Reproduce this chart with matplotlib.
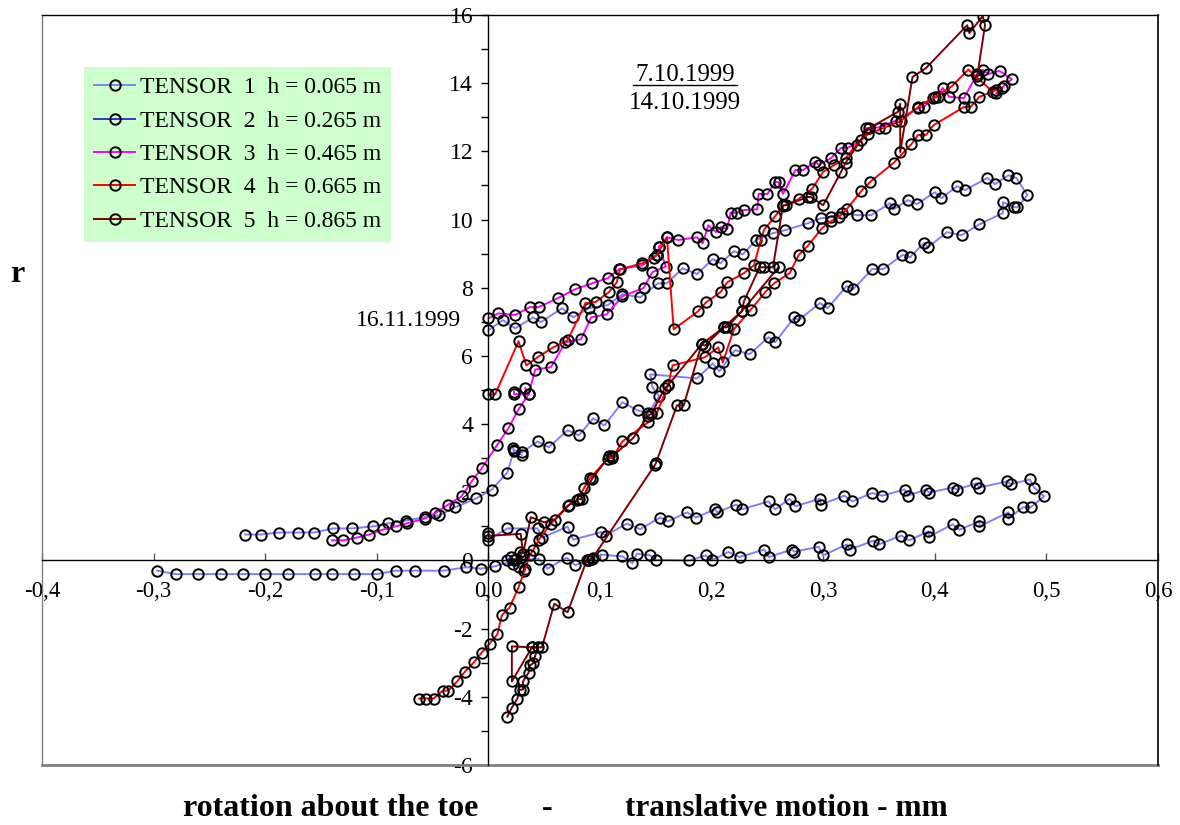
import numpy as np
import matplotlib
matplotlib.use('Agg')
import matplotlib.pyplot as plt
from matplotlib.lines import Line2D
from matplotlib.ticker import FuncFormatter, MultipleLocator

plt.rcParams['font.family'] = ['Liberation Serif', 'DejaVu Serif']
plt.rcParams['axes.unicode_minus'] = False

nan = float('nan')

# TENSOR 1 (two loops, NaN = break in the line)
t1_x = [-0.297, -0.28, -0.26, -0.24, -0.22, -0.2, -0.18, -0.155, -0.14, -0.12, -0.1, -0.083, -0.066, -0.04,
        -0.02, -0.007, 0.006, 0.023, 0.045, 0.053, 0.07, 0.078, 0.089, 0.094, 0.102, 0.12, 0.129, 0.133,
        0.145, 0.15, 0.18, 0.195, 0.2, 0.215, 0.225, 0.247, 0.251, 0.272, 0.274, 0.296, 0.3, 0.321, 0.324,
        0.345, 0.35, 0.37, 0.377, 0.394, 0.395, 0.416, 0.422, 0.44, 0.44, 0.466, 0.466, 0.479, 0.486, 0.498,
        0.489, 0.485, 0.468, 0.465, 0.44, 0.437, 0.42, 0.416, 0.395, 0.392, 0.376, 0.373, 0.353, 0.344,
        0.326, 0.319, 0.298, 0.297, 0.275, 0.27, 0.257, 0.251, 0.227, 0.222, 0.205, 0.203, 0.186, 0.178,
        0.161, 0.154, 0.136, 0.124, 0.105, 0.101, 0.076, 0.071, 0.048, 0.044, 0.017, 0.0,
        nan,
        -0.218, -0.204, -0.188, -0.171, -0.156, -0.139, -0.122, -0.103, -0.09, -0.074, -0.057, -0.044,
        -0.03, -0.011, 0.003, 0.017, 0.023, 0.03, 0.044, 0.054, 0.071, 0.081, 0.094, 0.104, 0.12, 0.134,
        0.143, 0.153, 0.147, 0.145, 0.187, 0.201, 0.207, 0.221, 0.234, 0.251, 0.257, 0.274, 0.278, 0.297,
        0.304, 0.321, 0.327, 0.344, 0.354, 0.371, 0.378, 0.39, 0.394, 0.411, 0.424, 0.44, 0.461, 0.461,
        0.471, 0.474, 0.483, 0.473, 0.466, 0.454, 0.447, 0.427, 0.42, 0.406, 0.4, 0.384, 0.376, 0.363,
        0.36, 0.343, 0.33, 0.317, 0.307, 0.298, 0.286, 0.266, 0.255, 0.24, 0.228, 0.22, 0.208, 0.201,
        0.187, 0.174, 0.16, 0.152, 0.136, 0.12, 0.107, 0.09, 0.076, 0.066, 0.047, 0.04, 0.024, 0.013, 0.0,
        nan,
        0.022, 0.023, 0.03]
t1_y = [-0.3, -0.4, -0.4, -0.4, -0.4, -0.4, -0.4, -0.4, -0.4, -0.4, -0.4, -0.3, -0.3, -0.3,
        -0.2, -0.24, -0.17, 0.0, 0.05, -0.24, 0.08, -0.14, 0.02, 0.08, 0.17, 0.12, -0.08, 0.2,
        0.15, 0.02, 0.0, 0.15, 0.0, 0.25, 0.1, 0.32, 0.1, 0.32, 0.26, 0.4, 0.15, 0.47, 0.32,
        0.58, 0.47, 0.73, 0.59, 0.85, 0.7, 1.06, 0.9, 1.15, 1.0, 1.41, 1.23, 1.56, 1.56, 1.88,
        2.14, 2.38, 2.23, 2.32, 2.14, 2.26, 2.08, 2.14, 1.99, 2.08, 1.9, 2.08, 1.9, 1.98,
        1.73, 1.9, 1.64, 1.81, 1.59, 1.81, 1.5, 1.73, 1.5, 1.64, 1.41, 1.5, 1.26, 1.41,
        1.15, 1.26, 0.92, 1.08, 0.73, 0.83, 0.61, 0.99, 0.67, 0.94, 0.94, 0.61,
        nan,
        0.76, 0.76, 0.82, 0.82, 0.82, 0.94, 0.94, 1.0, 1.09, 1.17, 1.27, 1.32,
        1.56, 1.82, 2.08, 2.58, 3.23, 3.17, 3.49, 3.32, 3.82, 3.67, 4.17, 3.96, 4.64, 4.4,
        4.32, 4.81, 5.08, 5.46, 5.34, 5.78, 5.55, 6.17, 6.05, 6.55, 6.4, 7.13, 7.05, 7.55,
        7.4, 8.05, 7.96, 8.55, 8.55, 8.96, 8.9, 9.3, 9.19, 9.63, 9.54, 9.86, 10.19, 10.51,
        10.36, 10.36, 10.72, 11.22, 11.3, 11.04, 11.22, 10.86, 10.98, 10.63, 10.8, 10.45, 10.57, 10.3,
        10.48, 10.13, 10.13, 10.19, 10.07, 10.04, 9.89, 9.69, 9.6, 9.4, 8.98, 9.07, 8.72, 8.84,
        8.4, 8.57, 8.13, 8.13, 7.72, 7.81, 7.49, 7.4, 7.13, 7.4, 6.99, 7.13, 6.81, 7.05, 6.75,
        nan,
        3.3, 3.2, 3.1]

# TENSOR 2
t2_x = [0.017, 0.02, 0.022, 0.025, 0.027, 0.03, 0.028, 0.032]
t2_y = [0.0, 0.1, -0.1, 0.05, -0.2, 0.1, 0.25, -0.3]

# TENSOR 3
t3_x = [-0.14, -0.13, -0.118, -0.107, -0.094, -0.083, -0.073, -0.057, -0.048, -0.036, -0.024, -0.015,
        -0.006, 0.008, 0.018, 0.027, 0.036, 0.042, 0.056, 0.069, 0.083, 0.092, 0.106, 0.12, 0.139, 0.147,
        0.159, 0.153, 0.16, 0.17, 0.187, 0.192, 0.197, 0.204, 0.208, 0.214, 0.217, 0.223, 0.229, 0.241,
        0.242, 0.25, 0.257, 0.26, 0.264, 0.275, 0.282, 0.293, 0.296, 0.307, 0.316, 0.322, 0.334, 0.338,
        0.35, 0.365, 0.385, 0.39, 0.398, 0.403, 0.407, 0.413, 0.426, 0.438, 0.443, 0.448, 0.458, 0.469,
        0.462, 0.455,
        nan,
        0.0, 0.009, 0.024, 0.037, 0.045, 0.062, 0.078, 0.093, 0.107, 0.117, 0.138, 0.148, 0.151, 0.153,
        nan,
        0.023, 0.023, 0.036, 0.033]
t3_y = [0.59, 0.59, 0.67, 0.76, 0.91, 1.0, 1.09, 1.23, 1.38, 1.64, 1.88, 2.32,
        2.7, 3.4, 3.88, 4.43, 4.87, 5.6, 5.67, 6.4, 6.49, 7.13, 7.22, 7.75, 7.99, 8.46,
        8.62, 9.2, 9.48, 9.4, 9.48, 9.3, 9.83, 9.63, 9.78, 9.72, 10.2, 10.2, 10.28, 10.3,
        10.75, 10.75, 11.1, 11.1, 10.75, 11.45, 11.45, 11.7, 11.6, 11.8, 12.1, 12.1, 12.33, 12.68,
        12.7, 12.9, 13.27, 13.3, 13.56, 13.6, 13.86, 13.6, 13.56, 14.27, 14.39, 14.27, 14.36, 14.12,
        13.92, 13.7,
        nan,
        7.1, 7.25, 7.2, 7.43, 7.43, 7.69, 7.96, 8.13, 8.28, 8.54, 8.66, 8.87, 8.96, 9.2,
        nan,
        4.95, 4.88, 4.87, 5.05]

# TENSOR 4
t4_x = [-0.062, -0.056, -0.049, -0.041, -0.036, -0.028, -0.021, -0.013, -0.006, 0.001, 0.008, 0.012,
        0.019, 0.027, 0.033, 0.037, 0.04, 0.045, 0.056, 0.071, 0.079, 0.086, 0.091, 0.107, 0.111, 0.12,
        0.143, 0.151, 0.161, 0.165, 0.194, 0.206, 0.21, 0.22, 0.235, 0.248, 0.256, 0.27, 0.278, 0.286,
        0.299, 0.307, 0.314, 0.321, 0.334, 0.342, 0.363, 0.379, 0.385, 0.392, 0.399, 0.426, 0.432, 0.44,
        0.455, 0.46,
        nan,
        0.0, 0.006, 0.027, 0.034, 0.044, 0.058, 0.071, 0.087, 0.096, 0.108, 0.115, 0.118, 0.138, 0.151,
        0.16, 0.166, 0.188, 0.195, 0.208, 0.214, 0.229, 0.238, 0.244, 0.247, 0.257, 0.264, 0.278, 0.29,
        0.3, 0.31, 0.32, 0.33, 0.34, 0.355, 0.37, 0.385, 0.4, 0.415, 0.43, 0.44, 0.452]
t4_y = [-4.05, -4.05, -4.05, -3.82, -3.82, -3.55, -3.26, -2.99, -2.7, -2.44, -2.17, -1.61,
        -1.38, -0.79, -0.24, 0.15, 0.3, 0.6, 1.08, 1.61, 1.76, 2.14, 2.41, 2.99, 3.0, 3.49,
        4.05, 4.32, 5.14, 5.72, 5.96, 6.25, 5.81, 6.78, 7.35, 7.87, 8.13, 8.43, 8.96, 9.22,
        9.75, 9.95, 10.07, 10.3, 10.83, 11.1, 11.66, 12.21, 12.48, 12.48, 12.77, 13.3, 13.3, 13.6,
        13.8, 13.85,
        nan,
        4.87, 4.87, 6.43, 5.72, 5.96, 6.25, 6.46, 7.55, 7.58, 7.87, 8.16, 8.54, 8.72, 8.96,
        9.48, 6.78, 7.31, 7.57, 7.87, 8.16, 8.43, 8.66, 9.4, 9.7, 10.1, 10.4, 10.6, 10.9,
        11.4, 11.6, 11.8, 12.2, 12.5, 12.7, 12.9, 13.3, 13.6, 13.9, 14.4, 14.1, 13.75]

# TENSOR 5
t5_x = [0.017, 0.021, 0.026, 0.028, 0.031, 0.031, 0.036, 0.037, 0.04, 0.042, 0.044, 0.039, 0.021,
        0.021, 0.039, 0.048, 0.059, 0.071, 0.088, 0.09, 0.093, 0.149, 0.15, 0.169, 0.175, 0.191, 0.194,
        0.211, 0.214, 0.227, 0.229, 0.243, 0.247, 0.255, 0.264, 0.267, 0.286, 0.289, 0.3, 0.316, 0.32,
        0.341, 0.367, 0.369, 0.369, 0.38, 0.392, 0.429, 0.431, 0.443, 0.445, 0.438,
        nan,
        0.0, 0.0, 0.029, 0.031, 0.038, 0.05, 0.06, 0.072, 0.081, 0.084, 0.093, 0.108, 0.111, 0.13,
        0.143, 0.146, 0.158, 0.161, 0.191, 0.211, 0.227, 0.26]
t5_y = [-4.58, -4.32, -4.05, -3.79, -3.79, -3.55, -3.29, -3.08, -3.02, -2.79, -2.55, -2.55, -2.52,
        -3.55, -2.55, -2.55, -1.27, -1.52, 0.0, 0.02, 0.05, 2.79, 2.85, 4.55, 4.55, 6.34, 6.3,
        6.84, 6.84, 7.31, 7.6, 8.6, 8.6, 8.6, 10.42, 10.42, 10.66, 10.66, 10.42, 11.4, 11.66,
        12.68, 13.16, 13.4, 11.98, 14.18, 14.44, 15.7, 15.47, 15.97, 15.7, 14.2,
        nan,
        0.82, 0.72, 0.78, 0.2, 1.27, 1.12, 1.2, 1.62, 1.8, 1.8, 2.4, 3.05, 3.05, 3.6,
        4.25, 4.3, 5.05, 5.14, 6.34, 6.84, 7.31, 8.6]

labels = ['TENSOR  1  h = 0.065 m', 'TENSOR  2  h = 0.265 m', 'TENSOR  3  h = 0.465 m',
          'TENSOR  4  h = 0.665 m', 'TENSOR  5  h = 0.865 m']
colors = ['#8080ff', '#3333cc', '#ff00ff', '#ff0000', '#800000']
series = [(t1_x, t1_y), (t2_x, t2_y), (t3_x, t3_y), (t4_x, t4_y), (t5_x, t5_y)]

fig = plt.figure(figsize=(11.8, 8.25), dpi=100)
ax = fig.add_axes([42 / 1180, 60 / 825, 1116 / 1180, 750 / 825])

for (xs, ys), c, lab in zip(series, colors, labels):
    ax.plot(xs, ys, color=c, lw=1.4, marker='o', ms=7.5, mfc='none', mec='black', mew=1.4, label=lab)

ax.set_xlim(-0.4, 0.6)
ax.set_ylim(-6, 16)

# axes cross at the origin
ax.spines['left'].set_position(('data', 0))
ax.spines['bottom'].set_position(('data', 0))
for s in ['top', 'right']:
    ax.spines[s].set_visible(False)
ax.spines['left'].set_linewidth(1.0)
ax.spines['bottom'].set_linewidth(1.0)

# outer frame
fr = dict(transform=ax.transAxes, clip_on=False)
ax.add_line(Line2D([0, 0], [0, 1], color='#808080', lw=1.0, **fr))
ax.add_line(Line2D([0, 1], [0, 0], color='#808080', lw=2.0, **fr))
ax.add_line(Line2D([0, 1], [1, 1], color='black', lw=1.0, **fr))
ax.add_line(Line2D([1, 1], [0, 1], color='black', lw=1.2, **fr))

ax.set_xticks(np.arange(-0.4, 0.61, 0.1))
ax.xaxis.set_major_formatter(FuncFormatter(lambda v, p: f'{v:.1f}'.replace('.', ',').replace('-0,0', '0,0')))
ax.yaxis.set_major_locator(MultipleLocator(2))
ax.yaxis.set_minor_locator(MultipleLocator(1))
ax.tick_params(top=False, right=False)
ax.tick_params(axis='x', direction='in', length=5, width=1, color='#555555', labelsize=16.5, pad=15)
ax.tick_params(axis='y', which='both', direction='out', length=5, width=1, labelsize=17, pad=6)

leg = ax.legend(loc='upper left', bbox_to_anchor=(84 / 1180, 1 - 67 / 825), bbox_transform=fig.transFigure,
                fontsize=17, frameon=True, fancybox=False, handlelength=1.75, handletextpad=0.2,
                labelspacing=0.5, borderpad=0.42, borderaxespad=0)
leg.get_frame().set_facecolor('#ccffcc')
leg.get_frame().set_edgecolor('none')
leg.get_frame().set_alpha(1)

# dates
fig.text(685 / 1180, 1 - 75 / 825, '7.10.1999', ha='center', va='center', fontsize=18)
fig.add_artist(Line2D([633 / 1180, 737 / 1180], [1 - 85 / 825, 1 - 85 / 825], color='black', lw=1))
fig.text(685 / 1180, 1 - 103 / 825, '14.10.1999', ha='center', va='center', fontsize=18)
fig.text(461 / 1180, 1 - 320 / 825, '16.11.1999', ha='right', va='center', fontsize=17)

fig.text(10 / 1180, 1 - 275 / 825, 'r', ha='left', va='center', fontsize=23, fontweight='bold')
fig.text(183 / 1180, 1 - 808 / 825, 'rotation about the toe', ha='left', va='center', fontsize=23, fontweight='bold')
fig.text(547 / 1180, 1 - 808 / 825, '-', ha='center', va='center', fontsize=23, fontweight='bold')
fig.text(625 / 1180, 1 - 808 / 825, 'translative motion - mm', ha='left', va='center', fontsize=22.5, fontweight='bold')

fig.savefig('out.png', dpi=100)
